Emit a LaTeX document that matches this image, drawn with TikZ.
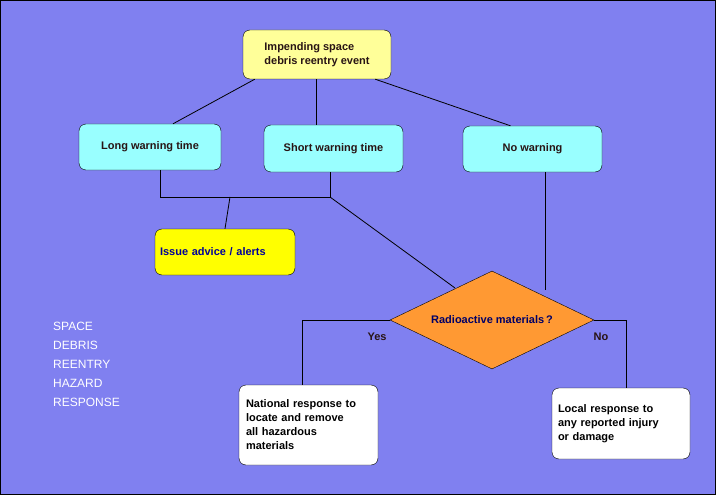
\documentclass[tikz,border=0pt]{standalone}
\usepackage{fontspec}
\setmainfont{Liberation Sans}
\usetikzlibrary{shapes.geometric,calc}
\definecolor{bg}{RGB}{128,128,240}
\definecolor{cy}{RGB}{153,255,255}
\definecolor{ly}{RGB}{255,255,153}
\definecolor{yl}{RGB}{255,255,0}
\definecolor{orng}{RGB}{255,153,51}
\definecolor{txt}{RGB}{40,20,20}
\tikzset{
 box/.style={draw=black,rounded corners=7pt,font=\fontsize{11}{14}\selectfont\bfseries,text=txt,inner sep=0pt},
 ln/.style={draw=black,line width=0.8pt}
}
\begin{document}
\begin{tikzpicture}[x=1pt,y=-1pt]
\fill[bg] (0,0) rectangle (716,495);
\draw[black,line width=1pt] (0.5,0.5) rectangle (715.5,494.5);
\node[box,fill=ly,minimum width=148pt,minimum height=49pt,align=left] (top) at (317,54.5) {Impending space\\debris reentry event};
\node[box,fill=cy,minimum width=142pt,minimum height=46pt] (long) at (150,147) {Long warning time};
\node[box,fill=cy,minimum width=139pt,minimum height=47pt] (short) at (333.5,148.5) {Short warning time};
\node[box,fill=cy,minimum width=139pt,minimum height=46pt] (nowarn) at (532.5,149) {No warning};
\node[box,fill=yl,text=blue!60!black,minimum width=140pt,minimum height=46pt,text width=130pt,align=left] (issue) at (225,252) {Issue advice / alerts};
\node[diamond,draw=black,fill=orng,minimum width=204pt,minimum height=98pt,inner sep=0pt,aspect=2.08,font=\fontsize{11}{14}\selectfont\bfseries,text=blue!40!black] (dia) at (492,320) {Radioactive materials\,?};
\node[box,fill=white,text=black,minimum width=139pt,minimum height=80pt,text width=125pt,align=left] (nat) at (308.5,425) {National response to\\locate and remove\\all hazardous\\materials};
\node[box,fill=white,text=black,minimum width=138pt,minimum height=71pt,text width=126pt,align=left] (loc) at (621,423.5) {Local response to\\any reported injury\\or damage};
\coordinate (j1) at (160,197);
\coordinate (j2) at (330,197);
\coordinate (j3) at (230,197);
\draw[ln] ($(top.south west)+(12,0)$) -- ($(long.north)+(23,0)$);
\draw[ln] ($(top.south)+(-1,0)$) -- ++(0,46);
\draw[ln] ($(top.south east)+(-16,0)$) -- ($(nowarn.north)+(-22,0)$);
\draw[ln] ($(long.south)+(10,0)$) |- (j2) -- ($(short.south)+(-3.5,0)$);
\draw[ln] (j3) -- (issue.north);
\draw[ln] (j2) -- (455,288);
\draw[ln] (545,172) -- (545,290);
\draw[ln] (dia.west) -| (302,385);
\draw[ln] (dia.east) -| (626,388);
\node[font=\fontsize{11}{14}\selectfont\bfseries,text=txt] (yes) at (377,337) {Yes};
\node[font=\fontsize{11}{14}\selectfont\bfseries,text=txt] (no) at (601,337) {No};
\node[text=white,font=\fontsize{12}{19}\selectfont,align=left,anchor=north west,inner sep=0pt] (sp) at (53,322) {SPACE\\DEBRIS\\REENTRY\\HAZARD\\RESPONSE};
\end{tikzpicture}
\end{document}
